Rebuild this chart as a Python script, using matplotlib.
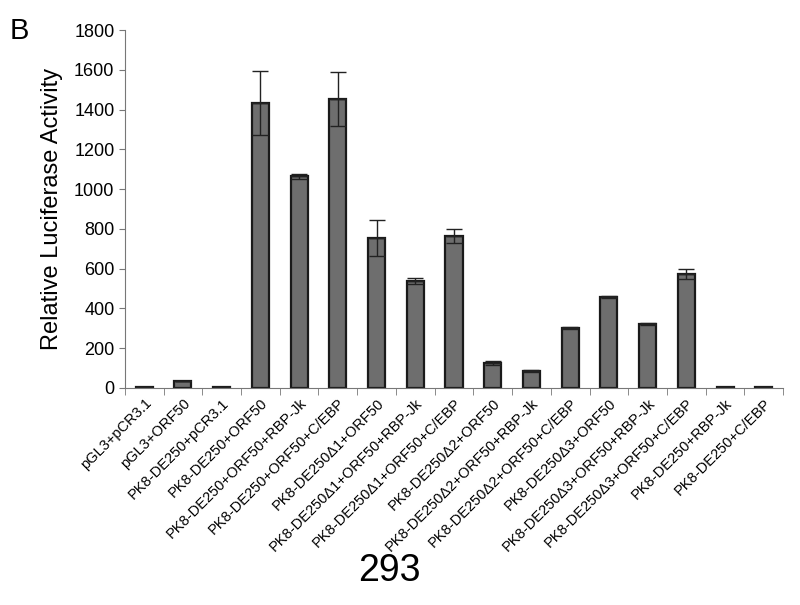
import numpy as np
import matplotlib
matplotlib.use('Agg')
import matplotlib.pyplot as plt

plt.rcParams['font.family'] = ['Liberation Sans', 'DejaVu Sans']

labels = ['pGL3+pCR3.1', 'pGL3+ORF50', 'PK8-DE250+pCR3.1', 'PK8-DE250+ORF50',
          'PK8-DE250+ORF50+RBP-Jk', 'PK8-DE250+ORF50+C/EBP',
          'PK8-DE250\u03941+ORF50', 'PK8-DE250\u03941+ORF50+RBP-Jk',
          'PK8-DE250\u03941+ORF50+C/EBP', 'PK8-DE250\u03942+ORF50',
          'PK8-DE250\u03942+ORF50+RBP-Jk', 'PK8-DE250\u03942+ORF50+C/EBP',
          'PK8-DE250\u03943+ORF50', 'PK8-DE250\u03943+ORF50+RBP-Jk',
          'PK8-DE250\u03943+ORF50+C/EBP', 'PK8-DE250+RBP-Jk', 'PK8-DE250+C/EBP']
values = [3, 35, 3, 1435, 1065, 1455, 755, 540, 765, 125, 85, 300, 455, 320, 575, 3, 3]
errors = [0, 0, 0, 160, 12, 135, 90, 15, 35, 10, 3, 5, 5, 5, 25, 0, 0]

fig = plt.figure(figsize=(8, 6.05), dpi=100)
ax = fig.add_axes([0.156, 0.359, 0.823, 0.591])

x = np.arange(len(labels))
ax.bar(x, values, width=0.44, color='#6e6e6e', edgecolor='#1a1a1a', linewidth=1.6)
zeros = np.zeros(len(errors))
ax.errorbar(x, values, yerr=[zeros, errors], fmt='none',
            ecolor='#222222', elinewidth=1, capsize=6, capthick=1)
ax.errorbar(x, values, yerr=[errors, zeros], fmt='none',
            ecolor='#222222', elinewidth=1, capsize=6, capthick=1)

ax.set_xlim(-0.5, len(labels) - 0.5)
ax.set_ylim(0, 1800)
ax.set_yticks(np.arange(0, 1801, 200))
ax.tick_params(axis='y', labelsize=13, length=4, color='#777777')
ax.set_xticks(x)
ax.set_xticklabels(labels, rotation=45, ha='right', rotation_mode='anchor', fontsize=10.5)
ax.tick_params(axis='x', length=0, pad=6)
ax.set_xticks(np.arange(-0.5, len(labels)), minor=True)
ax.tick_params(axis='x', which='minor', length=5, color='#777777')
ax.spines['top'].set_visible(False)
ax.spines['right'].set_visible(False)
ax.spines['left'].set_color('#777777')
ax.spines['bottom'].set_color('#777777')
ax.set_ylabel('Relative Luciferase Activity', fontsize=17, labelpad=8)

fig.text(0.012, 0.935, 'B', fontsize=21)
fig.text(0.487, 0.04, '293', fontsize=27, ha='center')

fig.savefig('out.png')
